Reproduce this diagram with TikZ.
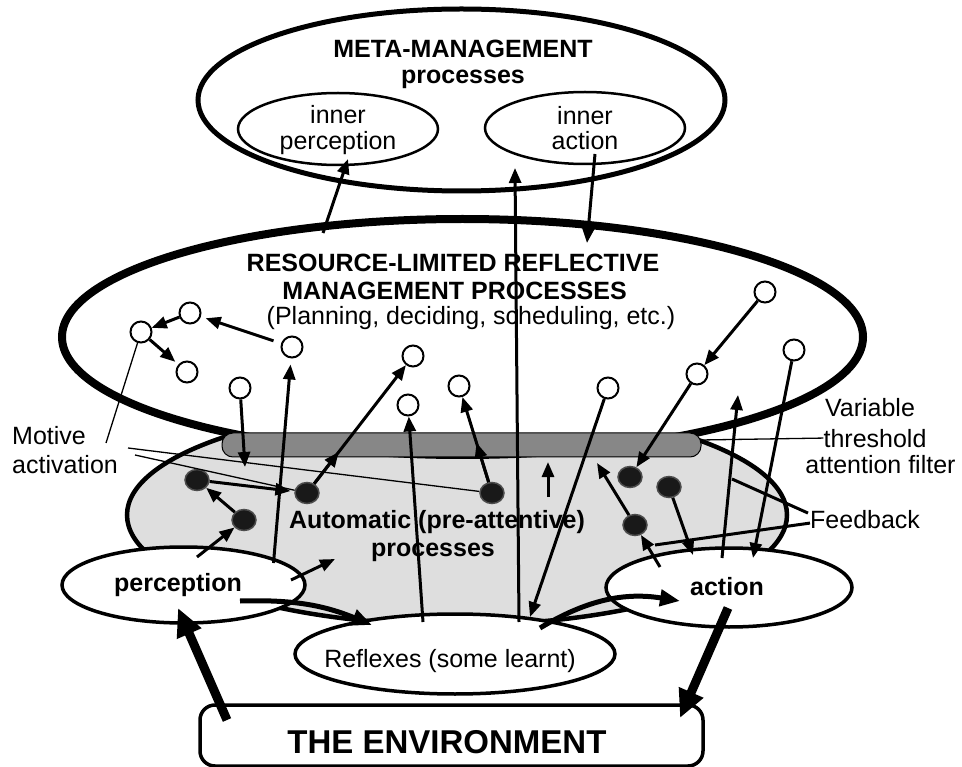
\documentclass[tikz,border=0pt]{standalone}
\usepackage{fontspec}
\setmainfont{Liberation Sans}
\usetikzlibrary{shapes.geometric,arrows.meta,calc}

\tikzset{
  blob/.style={ellipse, draw, inner sep=0},
  whitecirc/.style={circle, draw, fill=white, line width=2pt, minimum size=21pt, inner sep=0},
  blackdot/.style={ellipse, draw=black!70, fill=black!90, line width=1.5pt, minimum width=24pt, minimum height=21pt, inner sep=0},
  arr/.style={line width=3pt, -{Triangle[length=15pt,width=12pt]}},
  bigarr/.style={line width=9pt, -{Triangle[length=28pt,width=25pt]}},
  curvearr/.style={line width=5pt, -{Triangle[length=20pt,width=16pt]}},
  pointer/.style={line width=1.3pt},
  fbline/.style={line width=3pt},
  txt/.style={inner sep=0, anchor=base, font=\fontsize{25}{30}\selectfont},
  btxt/.style={txt, font=\fontsize{25}{30}\selectfont\bfseries},
}

\begin{document}
\begin{tikzpicture}[x=1pt, y=-1pt]
  \path[use as bounding box, fill=white] (0,0) rectangle (962,767);

  % the big regions
  \node[blob, fill=black!13, line width=4.5pt, minimum width=660pt, minimum height=220pt] (auto) at (457,515) {};
  \node[blob, fill=white, line width=8pt, minimum width=801pt, minimum height=236pt] (refl) at (462.5,337) {};
  \node[draw, fill=black!47, line width=1pt, rounded corners=11pt, minimum width=479pt, minimum height=24pt, inner sep=0] (filter) at (461.5,445) {};
  \node[blob, line width=5pt, minimum width=527pt, minimum height=182pt] (meta) at (461.5,100) {};
  \node[blob, line width=2.5pt, minimum width=200pt, minimum height=72pt] (inperc) at (338,129) {};
  \node[blob, line width=2.5pt, minimum width=200pt, minimum height=72pt] (inact) at (585,128) {};
  \node[blob, fill=white, line width=3.5pt, minimum width=243pt, minimum height=76pt] (perc) at (183.5,585) {};
  \node[blob, fill=white, line width=3.5pt, minimum width=246pt, minimum height=79pt] (act) at (729,587.5) {};
  \node[blob, fill=white, line width=3.5pt, minimum width=320pt, minimum height=80pt] (reflex) at (455,654) {};
  \node[draw, line width=3.5pt, rounded corners=15pt, minimum width=503pt, minimum height=61pt, inner sep=0] (env) at (451.5,735.5) {};

  % texts
  \node[btxt] (mmtitle) at (463,58) {META-MANAGEMENT};
  \node[btxt] (mmproc) at (463,84) {processes};
  \node[txt] (ipinner) at (338,124) {inner};
  \node[txt] (ipperc) at (338,150) {perception};
  \node[txt] (iainner) at (585,125) {inner};
  \node[txt] (iaact) at (585,150) {action};
  \node[btxt] (rtitle) at (453,272) {RESOURCE-LIMITED REFLECTIVE};
  \node[btxt] (rproc) at (454.5,300) {MANAGEMENT PROCESSES};
  \node[txt] (rsub) at (471,325) {(Planning, deciding, scheduling, etc.)};
  \node[btxt] (autotitle) at (437,528) {Automatic (pre-attentive)};
  \node[btxt] (autoproc) at (433,556) {processes};
  \node[btxt] (perctxt) at (178,591) {perception};
  \node[btxt] (acttxt) at (727,595) {action};
  \node[txt] (reftxt) at (450,667) {Reflexes (some learnt)};
  \node[txt, font=\fontsize{33}{40}\selectfont\bfseries] (envtxt) at (447,753) {THE ENVIRONMENT};
  \node[txt, anchor=base west] (motive) at (12,445) {Motive};
  \node[txt, anchor=base west] (activ) at (12,474) {activation};
  \node[txt] (var) at (870,417) {Variable};
  \node[txt] (thr) at (875,447) {threshold};
  \node[txt] (attf) at (880.5,474) {attention filter};
  \node[txt, anchor=base west] (fb) at (810,528) {Feedback};

  % management processes
  \node[whitecirc] (c1) at (190,313) {};
  \node[whitecirc] (c2) at (141,332) {};
  \node[whitecirc] (c3) at (187,372) {};
  \node[whitecirc] (c4) at (292,347) {};
  \node[whitecirc] (c5) at (240,388) {};
  \node[whitecirc] (c6) at (413,356) {};
  \node[whitecirc] (c7) at (459,386) {};
  \node[whitecirc] (c8) at (408,405) {};
  \node[whitecirc] (c9) at (608,388) {};
  \node[whitecirc] (c10) at (697,374) {};
  \node[whitecirc] (c11) at (765,292) {};
  \node[whitecirc] (c12) at (794,350) {};

  % automatic processes
  \node[blackdot] (d1) at (197,480) {};
  \node[blackdot] (d2) at (244,520) {};
  \node[blackdot] (d3) at (307,493) {};
  \node[blackdot] (d4) at (492,493) {};
  \node[blackdot] (d5) at (630,477) {};
  \node[blackdot] (d6) at (669,487) {};
  \node[blackdot] (d7) at (635,525) {};

  \coordinate (b1) at (245,467);
  \coordinate (g1) at (335,559);
  \coordinate (g2) at (597,463);
  \coordinate (s1) at (548,497);
  \coordinate (s2) at (548,462);
  \coordinate (r1) at (738,395);
  \coordinate (m1) at (106,443);
  \coordinate (m2) at (135,455);
  \coordinate (m3) at (128,448);
  \coordinate (f1) at (732,479);
  \coordinate (f2) at (655,545);

  % connectors
  \draw[arr] (c1) -- (c2);
  \draw[arr, shorten >=4pt] (c2) -- (c3);
  \draw[arr, shorten <=8pt, shorten >=5pt] (c4) -- (c1);
  \draw[arr, shorten >=6pt] ($(perc)+(90,-22)$) -- (c4);
  \draw[arr] (c5) -- (b1);
  \draw[arr] (d3) -- (c6);
  \draw[arr] (d3) -- ($(d3)!0.3!(c6)$);
  \draw[arr] (d4) -- (c7);
  \draw[arr] (d4) -- ($(d4)!0.47!(c7)$);
  \draw[arr] ($(reflex)+(-32,-32)$) -- (c8);
  \draw[arr] ($(reflex)+(64,-32)$) -- ($(meta)+(53.5,68)$);
  \draw[arr] (s1) -- (s2);
  \draw[arr] (c9) -- ($(reflex)+(75,-37)$);
  \draw[arr] (d7) -- (g2);
  \draw[arr] (c11) -- (c10);
  \draw[arr] (c10) -- (d5);
  \draw[arr] (c12) -- ($(act)+(24,-29.5)$);
  \draw[arr] ($(act)+(-7,-29.5)$) -- (r1);
  \draw[arr] (d6) -- ($(act)+(-36,-32.5)$);
  \draw[arr] ($(act)+(-69,-20.5)$) -- (d7);
  \draw[arr, shorten >=4pt] (d1) -- (d3);
  \draw[arr] (d2) -- (d1);
  \draw[arr] ($(perc)+(13.5,-28)$) -- (d2);
  \draw[arr] ($(perc)+(107.5,-5)$) -- (g1);
  \draw[arr] ($(refl)+(-139.5,-104)$) -- ($(inperc)+(10,30)$);
  \draw[arr] ($(inact)+(10,26)$) -- ($(refl)+(124.5,-94)$);
  \draw[bigarr] ($(env)+(-224.5,-15.5)$) -- ($(perc)+(-5.5,23)$);
  \draw[bigarr] ($(act)+(-1,20.5)$) -- ($(env)+(228.5,-17.5)$);
  \draw[curvearr] ($(perc)+(56.5,16)$) to[bend left=12] ($(reflex)+(-83,-29)$);
  \draw[curvearr] ($(reflex)+(85,-26)$) to[bend left=20] ($(act)+(-49,13.5)$);

  % labels
  \draw[pointer] (m1) -- (c2);
  \draw[pointer] (m2) -- (d3);
  \draw[pointer] (m3) -- (d4);
  \draw[pointer] ($(filter.east)+(-1,-5)$) -- (thr.west);
  \draw[fbline] ($(fb.west)+(-2,-6)$) -- (f1);
  \draw[fbline] ($(fb.west)+(0,4)$) -- (f2);
\end{tikzpicture}
\end{document}
